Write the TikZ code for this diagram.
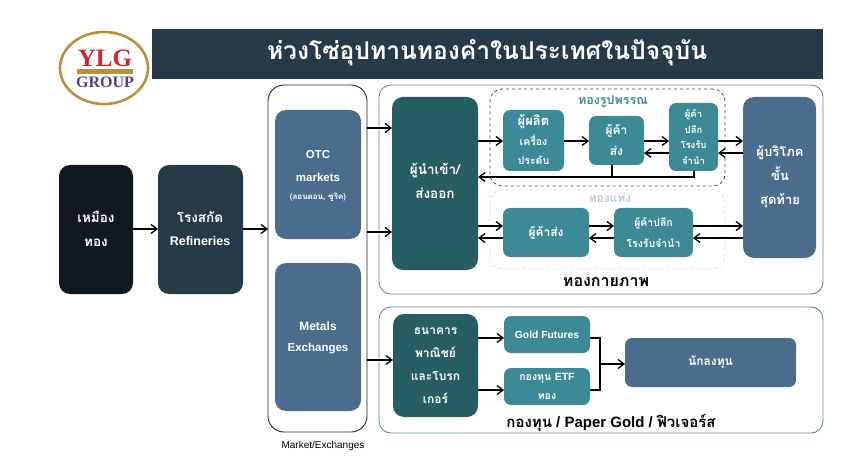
\documentclass[tikz,border=0pt]{standalone}
\usepackage{fontspec}
\setmainfont{Liberation Sans}
\newfontfamily\thf[Script=Thai]{Loma}
\newfontfamily\serifb{Liberation Serif}
\usetikzlibrary{arrows.meta,calc,shapes.geometric}
\definecolor{navy}{HTML}{263A48}
\definecolor{ink}{HTML}{11181F}
\definecolor{deepteal}{HTML}{265E63}
\definecolor{midteal}{HTML}{3B8A96}
\definecolor{slateblue}{HTML}{4A6D8E}
\definecolor{frameline}{HTML}{5E8C9A}
\definecolor{palegreen}{HTML}{C8DEDF}
\definecolor{paletext}{HTML}{A9D0D4}
\definecolor{gold}{HTML}{B8923A}
\definecolor{ylgred}{HTML}{D1282E}
\definecolor{ylgpurple}{HTML}{5A3D8C}
\tikzset{
  x=1pt,y=-1pt,
  base/.style={inner sep=0pt,outer sep=0pt,align=center,text=white},
  box/.style={base,rounded corners=11pt,fill=#1},
  sbox/.style={base,rounded corners=7pt,fill=#1},
  frame/.style={base,rounded corners=12pt,draw=frameline,line width=0.9pt,text=black},
  dashgroup/.style={base,rounded corners=12pt,draw=#1,dashed,line width=0.8pt},
  arr/.style={-{Straight Barb[length=6pt,width=9pt,line width=1.3pt]},line width=1.3pt,black},
  ln/.style={line width=1.3pt,black},
  thbig/.style={font=\thf\bfseries\fontsize{13.5}{24}\selectfont},
}
\newcommand{\bx}[7]{%
  \pgfmathsetmacro{\cxx}{(#2+#4)/2}\pgfmathsetmacro{\cyy}{(#3+#5)/2}%
  \pgfmathsetmacro{\www}{#4-#2}\pgfmathsetmacro{\hhh}{#5-#3}%
  \node[#6,minimum width=\www pt,minimum height=\hhh pt] (#1) at (\cxx,\cyy) {#7};}
\begin{document}
\begin{tikzpicture}
\useasboundingbox (0,0) rectangle (859,457);
% header
\bx{band}{152}{29}{823}{79}{base,fill=navy}{}
\node[base,font=\thf\bfseries\fontsize{24.6}{28}\selectfont] (title) at (487,53) {ห่วงโซ่อุปทานทองคำในประเทศในปัจจุบัน};
% logo
\node[base,ellipse,draw=gold,line width=2.6pt,fill=white,minimum width=88pt,minimum height=72pt] (logo) at (104,68) {};
\node[base,text=ylgred,font=\serifb\bfseries\fontsize{25}{26}\selectfont] (ylg) at (105,58.5) {YLG};
\node[base,fill=gold,minimum width=56pt,minimum height=4.5pt] (logobar) at (104.5,71.5) {};
\node[base,text=ylgpurple,font=\serifb\bfseries\fontsize{16}{16}\selectfont] (group) at (105,82) {GROUP};
% frames
\bx{market}{268}{85}{367}{432}{frame,draw=black!85,rounded corners=16pt}{}
\bx{physical}{379}{85}{823}{294}{frame}{}
\bx{paper}{379}{307}{823}{433}{frame}{}
\bx{grpA}{490}{89}{725}{186}{dashgroup=black!75}{}
\bx{grpB}{490}{190}{725}{269}{dashgroup=palegreen}{}
% boxes
\bx{mine}{59}{165}{133}{294}{box=ink}{}
\node[base,thbig] (minet) at (96,229) {เหมือง\\ทอง};
\bx{ref}{158}{165}{243}{294}{box=navy}{}
\node[base,thbig] (reft) at (200,217) {โรงสกัด};
\node[base,font=\bfseries\fontsize{12.5}{23}\selectfont] (refl) at (200,241) {Refineries};
\bx{otc}{275}{110}{361}{239}{box=slateblue}{}
\node[base,font=\bfseries\fontsize{11.5}{23}\selectfont] (otct) at (318,166.5) {OTC\\markets};
\node[base,font=\thf\bfseries\fontsize{8}{9}\selectfont] (otcs) at (318,197) {(ลอนดอน, ซูริค)};
\bx{metals}{275}{263}{361}{411}{box=slateblue}{}
\node[base,font=\bfseries\fontsize{12}{14}\selectfont] (mett) at (318,326) {Metals};
\node[base,font=\bfseries\fontsize{11.5}{14}\selectfont] (mete) at (318,349) {Exchanges};
\bx{imp}{392}{97}{478}{270}{box=deepteal}{}
\node[base,thbig] (impt) at (435,181) {ผู้นำเข้า/\\ส่งออก};
\bx{prod}{503}{110}{564}{171}{sbox=midteal}{}
\node[base,font=\thf\bfseries\fontsize{13}{14}\selectfont] (prod1) at (533.5,122) {ผู้ผลิต};
\node[base,font=\thf\bfseries\fontsize{10.5}{19}\selectfont] (prod2) at (533.5,150) {เครื่อง\\ประดับ};
\bx{whA}{589}{116}{644}{165}{sbox=midteal,font=\thf\bfseries\fontsize{12}{21}\selectfont}{ผู้ค้า\\ส่ง}
\bx{retA}{669}{103}{718}{171}{sbox=midteal,font=\thf\bfseries\fontsize{9.5}{15.5}\selectfont}{ผู้ค้า\\ปลีก\\โรงรับ\\จำนำ}
\bx{cons}{743}{97}{816}{258}{box=slateblue}{}
\node[base,thbig,font=\thf\bfseries\fontsize{13}{24}\selectfont] (const) at (780,177) {ผู้บริโภค\\ขั้น\\สุดท้าย};
\bx{whB}{503}{208}{589}{257}{sbox=midteal,font=\thf\bfseries\fontsize{12}{20}\selectfont}{ผู้ค้าส่ง}
\bx{retB}{614}{208}{693}{257}{sbox=midteal,font=\thf\bfseries\fontsize{10.5}{21}\selectfont}{ผู้ค้าปลีก\\โรงรับจำนำ}
\node[base,text=midteal,font=\thf\bfseries\fontsize{12.5}{14}\selectfont] (lblA) at (613,102) {ทองรูปพรรณ};
\node[base,text=paletext,font=\thf\bfseries\fontsize{12}{14}\selectfont] (lblB) at (610,198) {ทองแท่ง};
\node[base,text=black,font=\thf\bfseries\fontsize{16}{18}\selectfont] (lblP) at (606,282) {ทองกายภาพ};
\bx{bank}{393}{314}{478}{417}{box=deepteal,font=\thf\bfseries\fontsize{12}{23}\selectfont}{ธนาคาร\\พาณิชย์\\และโบรก\\เกอร์}
\bx{fut}{504}{316}{590}{353}{sbox=midteal,font=\bfseries\fontsize{10.3}{12}\selectfont}{Gold Futures}
\bx{etf}{504}{368}{590}{405}{sbox=midteal,font=\thf\bfseries\fontsize{10.5}{19}\selectfont}{กองทุน {\rmfamily ETF}\\ทอง}
\bx{inv}{625}{338}{796}{387}{sbox=slateblue,font=\thf\bfseries\fontsize{12}{14}\selectfont}{นักลงทุน}
\node[base,text=black,font=\bfseries\fontsize{15}{17}\selectfont] (lblQ) at (611,423) {{\thf กองทุน} / Paper Gold / {\thf ฟิวเจอร์ส}};
\node[base,text=black,font=\fontsize{10}{11}\selectfont] (lblM) at (323,446) {Market/Exchanges};
% connectors
\draw[arr] (mine.east |- 0,229) -- (ref.west |- 0,229);
\draw[arr] (ref.east |- 0,229) -- (market.west |- 0,229);
\draw[arr] (market.east |- 0,128) -- (imp.west |- 0,128);
\draw[arr] (market.east |- 0,232) -- (imp.west |- 0,232);
\draw[arr] (market.east |- 0,360) -- (bank.west |- 0,360);
\draw[arr] (imp.east |- 0,141) -- (prod.west |- 0,141);
\draw[arr] (prod.east |- 0,141) -- (whA.west |- 0,141);
\draw[arr] (whA.east |- 0,141) -- (retA.west |- 0,141);
\draw[arr] (retA.west |- 0,153) -- (whA.east |- 0,153);
\draw[arr] (retA.east |- 0,141) -- (cons.west |- 0,141);
\draw[arr] (cons.west |- 0,153) -- (retA.east |- 0,153);
\coordinate (back) at (694,177);
\draw[arr] (retA.south -| back) -- (back) -- (imp.east |- back);
\draw[ln] (whA.south) ++(-4.5,0) -- ++(0,12);
\draw[arr] (imp.east |- 0,226) -- (whB.west |- 0,226);
\draw[arr] (whB.west |- 0,238) -- (imp.east |- 0,238);
\draw[arr] (whB.east |- 0,226) -- (retB.west |- 0,226);
\draw[arr] (retB.west |- 0,238) -- (whB.east |- 0,238);
\draw[arr] (retB.east |- 0,226) -- (cons.west |- 0,226);
\draw[arr] (cons.west |- 0,238) -- (retB.east |- 0,238);
\draw[arr] (bank.east |- 0,338) -- (fut.west |- 0,338);
\draw[arr] (bank.east |- 0,390) -- (etf.west |- 0,390);
\coordinate (join) at (600,364);
\draw[ln] (fut.east |- 0,338) -- (join |- 0,338) -- (join |- 0,390) -- (etf.east |- 0,390);
\draw[arr] (join) -- (inv.west |- join);
\end{tikzpicture}
\end{document}
